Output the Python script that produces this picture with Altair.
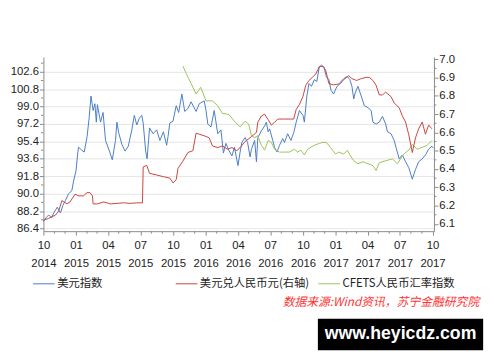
import altair as alt
import pandas as pd

SER_DXY = "美元指数"
SER_CNY = "美元兑人民币元(右轴)"
SER_CFETS = "CFETS人民币汇率指数"

dxy_dates = [
    "2014-10-01", "2014-10-08", "2014-10-16", "2014-10-24", "2014-10-30", "2014-11-09", "2014-11-18",
    "2014-11-25", "2014-12-02", "2014-12-11", "2014-12-20", "2014-12-25", "2015-01-01", "2015-01-05",
    "2015-01-08", "2015-01-17", "2015-01-24", "2015-02-01", "2015-02-07", "2015-02-12", "2015-02-18",
    "2015-02-23", "2015-02-27", "2015-03-02", "2015-03-11", "2015-03-18", "2015-03-25", "2015-04-04",
    "2015-04-13", "2015-04-22", "2015-04-26", "2015-05-01", "2015-05-10", "2015-05-19", "2015-05-28",
    "2015-06-07", "2015-06-14", "2015-06-21", "2015-06-28", "2015-07-05", "2015-07-09", "2015-07-16",
    "2015-07-20", "2015-07-27", "2015-08-06", "2015-08-16", "2015-08-25", "2015-09-04", "2015-09-13",
    "2015-09-17", "2015-09-22", "2015-10-01", "2015-10-10", "2015-10-17", "2015-10-26", "2015-11-03",
    "2015-11-12", "2015-11-21", "2015-12-05", "2015-12-14", "2015-12-28", "2016-01-02", "2016-01-07",
    "2016-01-16", "2016-01-25", "2016-02-04", "2016-02-13", "2016-02-20", "2016-02-27", "2016-03-06",
    "2016-03-15", "2016-03-22", "2016-04-01", "2016-04-07", "2016-04-12", "2016-04-21", "2016-04-28",
    "2016-05-05", "2016-05-09", "2016-05-18", "2016-05-23", "2016-05-27", "2016-06-06", "2016-06-15",
    "2016-06-20", "2016-06-25", "2016-06-29", "2016-07-08", "2016-07-13", "2016-07-20", "2016-07-27",
    "2016-08-05", "2016-08-10", "2016-08-19", "2016-08-28", "2016-09-05", "2016-09-12", "2016-09-21",
    "2016-10-01", "2016-10-05", "2016-10-12", "2016-10-18", "2016-10-25", "2016-11-02", "2016-11-09",
    "2016-11-16", "2016-11-22", "2016-11-29", "2016-12-06", "2016-12-13", "2016-12-19", "2016-12-26",
    "2017-01-05", "2017-01-15", "2017-01-24", "2017-02-03", "2017-02-10", "2017-02-16", "2017-02-21",
    "2017-02-25", "2017-03-05", "2017-03-14", "2017-03-23", "2017-04-02", "2017-04-11", "2017-04-16",
    "2017-04-25", "2017-05-04", "2017-05-13", "2017-05-22", "2017-05-27", "2017-06-06", "2017-06-15",
    "2017-06-20", "2017-06-29", "2017-07-08", "2017-07-17", "2017-07-26", "2017-08-05", "2017-08-14",
    "2017-08-23", "2017-09-02", "2017-09-11", "2017-09-20", "2017-09-29", "2017-10-04",
]
dxy_values = [
    87.1, 87.5, 87.8, 87.5, 88.0, 88.6, 88.0,
    88.8, 89.3, 90.0, 90.3, 91.3, 92.4, 94.0,
    94.8, 94.5, 94.3, 95.9, 97.9, 100.1, 98.6,
    99.3, 97.4, 99.2, 97.4, 98.4, 95.5, 94.5,
    93.5, 95.5, 97.4, 96.3, 95.1, 94.4, 94.9,
    96.6, 98.1, 97.1, 97.8, 98.1, 97.3, 94.4,
    93.6, 96.8, 96.2, 96.6, 95.5, 96.4, 95.0,
    95.9, 97.3, 97.5, 99.1, 98.4, 100.3, 98.5,
    98.8, 99.5, 98.5, 99.3, 99.6, 98.6, 97.2,
    96.9, 98.6, 96.2, 96.6, 94.2, 95.2, 94.5,
    93.9, 94.8, 92.9, 94.3, 95.3, 95.8, 95.3,
    93.8, 94.6, 95.5, 93.3, 95.8, 96.5, 97.0,
    97.4, 96.4, 96.7, 95.5, 94.8, 94.3, 95.0,
    95.7, 95.3, 96.2, 95.5, 96.3, 97.4, 98.6,
    98.1, 97.4, 100.1, 101.4, 101.1, 101.8, 101.6,
    103.1, 103.3, 103.1, 102.1, 101.8, 100.7, 100.3,
    101.1, 101.4, 101.8, 102.1, 101.8, 101.1, 99.8,
    100.4, 101.1, 100.1, 99.1, 98.9, 98.6, 97.4,
    97.2, 97.4, 98.0, 97.2, 96.4, 96.2, 95.5,
    94.8, 93.6, 94.0, 93.3, 92.7, 91.5, 92.5,
    93.3, 93.6, 94.0, 94.6, 94.9, 94.7,
]

cny_dates = [
    "2014-10-01", "2014-10-16", "2014-11-04", "2014-11-13", "2014-11-22", "2014-12-06", "2014-12-15",
    "2014-12-29", "2015-01-08", "2015-01-22", "2015-02-01", "2015-02-09", "2015-02-16", "2015-02-18",
    "2015-03-02", "2015-03-20", "2015-04-08", "2015-04-26", "2015-05-14", "2015-06-02", "2015-06-21",
    "2015-07-07", "2015-07-09", "2015-07-19", "2015-07-27", "2015-08-16", "2015-09-04", "2015-09-22",
    "2015-10-01", "2015-10-10", "2015-10-15", "2015-10-28", "2015-11-12", "2015-11-26", "2015-12-05",
    "2015-12-19", "2016-01-02", "2016-01-11", "2016-01-20", "2016-02-04", "2016-02-18", "2016-03-02",
    "2016-03-15", "2016-03-29", "2016-04-07", "2016-04-21", "2016-05-09", "2016-05-23", "2016-05-27",
    "2016-06-06", "2016-06-15", "2016-06-25", "2016-07-04", "2016-07-13", "2016-07-22", "2016-08-10",
    "2016-08-28", "2016-09-05", "2016-09-12", "2016-09-21", "2016-10-01", "2016-10-09", "2016-10-18",
    "2016-10-27", "2016-11-06", "2016-11-16", "2016-11-27", "2016-12-04", "2016-12-13", "2016-12-26",
    "2017-01-10", "2017-01-24", "2017-02-07", "2017-02-16", "2017-03-01", "2017-03-14", "2017-03-28",
    "2017-04-06", "2017-04-16", "2017-04-25", "2017-05-04", "2017-05-13", "2017-05-22", "2017-06-06",
    "2017-06-15", "2017-06-29", "2017-07-08", "2017-07-17", "2017-07-26", "2017-08-05", "2017-08-14",
    "2017-08-23", "2017-09-02", "2017-09-11", "2017-09-20", "2017-09-29",
]
cny_values = [
    6.12, 6.13, 6.148, 6.17, 6.227, 6.21, 6.22,
    6.262, 6.253, 6.253, 6.271, 6.271, 6.253, 6.209,
    6.209, 6.22, 6.209, 6.212, 6.215, 6.212, 6.215,
    6.215, 6.411, 6.42, 6.376, 6.367, 6.358, 6.35,
    6.324, 6.341, 6.403, 6.44, 6.49, 6.5, 6.596,
    6.587, 6.578, 6.57, 6.526, 6.517, 6.526, 6.508,
    6.517, 6.5, 6.517, 6.55, 6.577, 6.6, 6.656,
    6.69, 6.7, 6.67, 6.64, 6.655, 6.673, 6.673,
    6.673, 6.673, 6.726, 6.752, 6.796, 6.858, 6.884,
    6.9, 6.919, 6.96, 6.96, 6.94, 6.867, 6.86,
    6.865, 6.894, 6.91, 6.894, 6.884, 6.894, 6.901,
    6.901, 6.884, 6.858, 6.805, 6.805, 6.82, 6.796,
    6.761, 6.735, 6.69, 6.657, 6.587, 6.49, 6.57,
    6.62, 6.657, 6.59, 6.64, 6.62,
]

cfets_dates = [
    "2015-10-29", "2015-11-10", "2015-11-21", "2015-12-05", "2015-12-18", "2016-01-02", "2016-01-20",
    "2016-02-04", "2016-02-17", "2016-03-06", "2016-03-24", "2016-04-07", "2016-04-21", "2016-05-01",
    "2016-05-09", "2016-05-18", "2016-05-27", "2016-06-06", "2016-06-15", "2016-06-25", "2016-07-04",
    "2016-07-13", "2016-07-27", "2016-08-10", "2016-08-24", "2016-09-07", "2016-09-16", "2016-09-25",
    "2016-10-05", "2016-10-14", "2016-11-02", "2016-11-16", "2016-11-25", "2016-12-06", "2016-12-17",
    "2017-01-01", "2017-01-10", "2017-01-24", "2017-02-03", "2017-02-12", "2017-02-21", "2017-03-05",
    "2017-03-19", "2017-04-02", "2017-04-16", "2017-04-25", "2017-05-04", "2017-05-22", "2017-06-10",
    "2017-06-24", "2017-07-03", "2017-07-12", "2017-07-26", "2017-08-05", "2017-08-19", "2017-09-02",
    "2017-09-16", "2017-09-29",
]
cfets_values = [
    103.2, 102.2, 101.4, 100.3, 101.0, 99.6, 99.6,
    99.1, 98.3, 98.2, 97.4, 96.9, 97.5, 97.2,
    96.0, 95.8, 96.0, 95.0, 94.5, 95.5, 95.3,
    94.6, 94.3, 94.3, 94.3, 94.6, 94.3, 94.5,
    94.0, 94.6, 95.0, 95.2, 95.3, 95.3, 94.8,
    94.1, 94.3, 94.1, 94.5, 93.9, 93.4, 93.1,
    93.3, 93.1, 92.9, 92.4, 93.2, 93.4, 93.6,
    93.1, 93.6, 94.1, 94.5, 95.1, 94.6, 94.8,
    95.0, 95.5,
]

left_ticks = [86.4, 88.2, 90.0, 91.8, 93.6, 95.4, 97.2, 99.0, 100.8, 102.6]
left_minor = [87.3, 89.1, 90.9, 92.7, 94.5, 96.3, 98.1, 99.9, 101.7, 103.5]
right_ticks = [6.1, 6.2, 6.3, 6.4, 6.5, 6.6, 6.7, 6.8, 6.9, 7.0]
right_minor = [6.15, 6.25, 6.35, 6.45, 6.55, 6.65, 6.75, 6.85, 6.95]
quarter_ticks = [(2014, 10), (2015, 1), (2015, 4), (2015, 7), (2015, 10), (2016, 1), (2016, 4),
                 (2016, 7), (2016, 10), (2017, 1), (2017, 4), (2017, 7), (2017, 10)]
month_minor = [
    "2014-11-01", "2014-12-01", "2015-02-01", "2015-03-01", "2015-05-01", "2015-06-01",
    "2015-08-01", "2015-09-01", "2015-11-01", "2015-12-01", "2016-02-01", "2016-03-01",
    "2016-05-01", "2016-06-01", "2016-08-01", "2016-09-01", "2016-11-01", "2016-12-01",
    "2017-02-01", "2017-03-01", "2017-05-01", "2017-06-01", "2017-08-01", "2017-09-01",
]

COLORS = ["#4a7cc7", "#c9443f", "#9cc25a"]
LABEL_FONT = "Liberation Sans"
CJK = "Noto Sans CJK SC"
TXT = "#222222"
AX = "#8a8a8a"

left_df = pd.concat([
    pd.DataFrame({"date": dxy_dates, "value": dxy_values, "series": SER_DXY}),
    pd.DataFrame({"date": cfets_dates, "value": cfets_values, "series": SER_CFETS}),
], ignore_index=True)
right_df = pd.DataFrame({"date": cny_dates, "value": cny_values, "series": SER_CNY})

xscale = alt.Scale(type="utc", domain=[alt.DateTime(year=2014, month=10, date=1, utc=True),
                                       alt.DateTime(year=2017, month=10, date=5, utc=True)])
lscale = alt.Scale(domain=[86.12, 104.13], zero=False, nice=False)
rscale = alt.Scale(domain=[6.06, 7.012], zero=False, nice=False)

color = alt.Color(
    "series:N",
    scale=alt.Scale(domain=[SER_DXY, SER_CNY, SER_CFETS], range=COLORS),
    legend=alt.Legend(
        orient="none", legendX=-11, legendY=219, direction="horizontal", columns=3,
        gridAlign="all", columnPadding=3, symbolType="stroke", symbolSize=484,
        symbolStrokeWidth=1, labelFont=CJK, labelFontSize=11.5, labelColor=TXT,
        labelOffset=2, title=None, padding=0,
    ),
)

x_axis = alt.Axis(
    values=[alt.DateTime(year=y, month=m, date=1, utc=True) for y, m in quarter_ticks],
    labelExpr="[utcFormat(datum.value, '%m'), utcFormat(datum.value, '%Y')]",
    labelLineHeight=18, labelFont=LABEL_FONT, labelFontSize=11.5, labelColor=TXT,
    labelPadding=5, tickSize=4, tickColor=AX, domainColor=AX, grid=False, title=None,
    labelAngle=0, labelOverlap=False, labelFlush=False,
)
left_axis = alt.Axis(
    orient="left", values=left_ticks, format=".1f", grid=True, gridColor="#e4e4e4",
    tickSize=4, tickColor=AX, domainColor=AX, labelPadding=1, labelFont=LABEL_FONT,
    labelFontSize=11.5, labelColor=TXT, title=None, labelOverlap=False)
right_axis = alt.Axis(
    orient="right", values=right_ticks, format=".1f", grid=False,
    tickSize=4, tickColor=AX, domainColor=AX, labelPadding=1, labelFont=LABEL_FONT,
    labelFontSize=11.5, labelColor=TXT, title=None, labelOverlap=False)


def xenc(field):
    return alt.X(field, scale=xscale, axis=x_axis)


left_lines = alt.Chart(left_df).mark_line(strokeWidth=1).encode(
    x=xenc("date:T"),
    y=alt.Y("value:Q", scale=lscale, axis=left_axis),
    color=color,
    detail="series:N",
)
left_minor_rules = alt.Chart(pd.DataFrame({"value": left_minor})).mark_rule(color=AX).encode(
    y=alt.Y("value:Q", scale=lscale, axis=left_axis),
    x=alt.value(-2.5), x2=alt.value(0),
)
left_group = alt.layer(left_lines, left_minor_rules)

right_line = alt.Chart(right_df).mark_line(strokeWidth=1).encode(
    x=xenc("date:T"),
    y=alt.Y("value:Q", scale=rscale, axis=right_axis),
    color=color,
)
right_minor_rules = alt.Chart(pd.DataFrame({"value": right_minor})).mark_rule(color=AX).encode(
    y=alt.Y("value:Q", scale=rscale, axis=right_axis),
    x=alt.value(397), x2=alt.value(399.5),
)
right_group = alt.layer(right_line, right_minor_rules)

x_minor_rules = alt.Chart(pd.DataFrame({"date": month_minor})).mark_rule(color=AX).encode(
    x=xenc("date:T"),
    y=alt.value(177), y2=alt.value(179.5),
)

one = pd.DataFrame({"k": [0]})
source = alt.Chart(one).mark_text(
    text="数据来源:Wind资讯，苏宁金融研究院", font=CJK, fontSize=12, fontStyle="italic",
    color="#ff3333", align="right", baseline="middle",
).encode(x=alt.value(443), y=alt.value(249))
wm_box = alt.Chart(one).mark_rect(color="#000000").encode(
    x=alt.value(279), x2=alt.value(447), y=alt.value(266), y2=alt.value(298),
)
wm_text = alt.Chart(one).mark_text(
    text="www.heyicdz.com", font=LABEL_FONT, fontWeight="bold", fontSize=18,
    color="#ffffff", align="center", baseline="middle",
).encode(x=alt.value(363), y=alt.value(282))

chart = alt.layer(
    left_group, right_group, x_minor_rules, source, wm_box, wm_text
).resolve_scale(y="independent").properties(
    width=397, height=177,
    autosize=alt.AutoSizeParams(type="none"),
    padding={"left": 36, "top": 47, "right": 59, "bottom": 122},
).configure_view(stroke=None)

chart.save("out.html", embed_options={"renderer": "svg", "actions": False})
